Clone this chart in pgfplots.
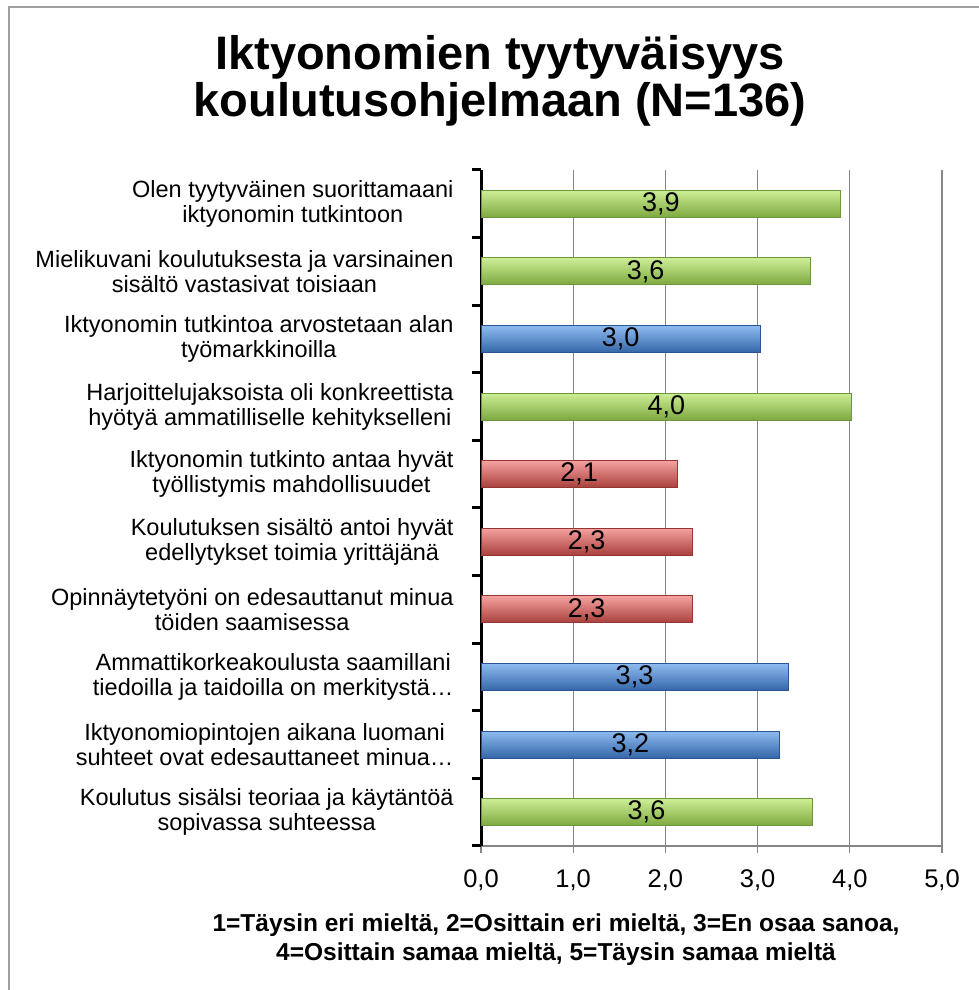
\documentclass[border=0pt]{standalone}
\usepackage{pgfplots}
\pgfplotsset{compat=1.18}
\usepackage{fontspec}
\setmainfont{Liberation Sans}
\definecolor{gridgray}{HTML}{868686}
\definecolor{gtop}{HTML}{CDEE96}
\definecolor{gmain}{HTML}{9BCB4F}
\definecolor{gbot}{HTML}{7DA83F}
\definecolor{gdark}{HTML}{6E963A}
\definecolor{btop}{HTML}{8EBBF0}
\definecolor{bmain}{HTML}{4A84CC}
\definecolor{bbot}{HTML}{3466A8}
\definecolor{bdark}{HTML}{2A5590}
\definecolor{rtop}{HTML}{F5A2A0}
\definecolor{rmain}{HTML}{CF5450}
\definecolor{rbot}{HTML}{A83F3B}
\definecolor{rdark}{HTML}{943633}
\pgfplotsset{
  gbar/.style={draw=gdark, line width=0.8pt, top color=gtop, middle color=gmain, bottom color=gbot},
  bbar/.style={draw=bdark, line width=0.8pt, top color=btop, middle color=bmain, bottom color=bbot},
  rbar/.style={draw=rdark, line width=0.8pt, top color=rtop, middle color=rmain, bottom color=rbot},
}
\begin{document}
\begin{tikzpicture}[x=1pt,y=1pt]
\useasboundingbox (0,0) rectangle (979,990);
\draw[gray!75, line width=2pt] (9,0) -- (9,983) -- (979,983);
\node[font=\fontsize{47}{47}\selectfont\bfseries, anchor=base] at (500,920) {Iktyonomien tyytyväisyys};
\node[font=\fontsize{47}{47}\selectfont\bfseries, anchor=base] at (500,873) {koulutusohjelmaan (N=136)};
\node[font=\fontsize{24.5}{24.5}\selectfont\bfseries, anchor=base] at (556,58) {1=Täysin eri mieltä, 2=Osittain eri mieltä, 3=En osaa sanoa,};
\node[font=\fontsize{24.5}{24.5}\selectfont\bfseries, anchor=base] at (556,29) {4=Osittain samaa mieltä, 5=Täysin samaa mieltä};
\begin{axis}[
  at={(481pt,144pt)}, anchor=south west,
  scale only axis, width=461pt, height=676pt,
  xmin=0, xmax=5, ymin=-0.5, ymax=9.5,
  xbar, bar width=27pt, bar shift=0pt,
  axis lines*=left,
  x axis line style={gridgray, line width=1.3pt},
  y axis line style={black, line width=3pt},
  xtick={0,1,2,3,4,5},
  xticklabels={{0,0},{1,0},{2,0},{3,0},{4,0},{5,0}},
  xticklabel style={font=\fontsize{25.5}{25.5}\selectfont, yshift=-13pt},
  xmajorgrids,
  grid style={gridgray, line width=1.3pt},
  tick align=outside,
  major tick length=7pt,
  minor tick length=9pt,
  major x tick style={gridgray, line width=1.3pt},
  major y tick style={draw=none},
  minor y tick style={black, line width=3pt},
  ytick={0,1,2,3,4,5,6,7,8,9},
  minor ytick={-0.5,0.5,1.5,2.5,3.5,4.5,5.5,6.5,7.5,8.5,9.5},
  yticklabels={
    {Koulutus sisälsi teoriaa ja käytäntöä\\sopivassa suhteessa},
    {Iktyonomiopintojen aikana luomani\\suhteet ovat edesauttaneet minua…},
    {Ammattikorkeakoulusta saamillani\\tiedoilla ja taidoilla on merkitystä…},
    {Opinnäytetyöni on edesauttanut minua\\töiden saamisessa},
    {Koulutuksen sisältö antoi hyvät\\edellytykset toimia yrittäjänä},
    {Iktyonomin tutkinto antaa hyvät\\työllistymis mahdollisuudet},
    {Harjoittelujaksoista oli konkreettista\\hyötyä ammatilliselle kehitykselleni},
    {Iktyonomin tutkintoa arvostetaan alan\\työmarkkinoilla},
    {Mielikuvani koulutuksesta ja varsinainen\\sisältö vastasivat toisiaan},
    {Olen tyytyväinen suorittamaani\\iktyonomin tutkintoon}},
  yticklabel style={font=\fontsize{23.5}{25}\selectfont, align=center, xshift=-17pt},
  /pgf/number format/assume math mode=true,
  visualization depends on=rawx \as \rawx,
  nodes near coords={\pgfmathprintnumber[fixed,fixed zerofill,precision=1,use comma,assume math mode=true]{\pgfplotspointmeta}},
  point meta=x,
  every node near coord/.append style={font=\fontsize{27}{27}\selectfont, text=black, anchor=center, xshift={-46.1*\rawx}},
]
\addplot[gbar] coordinates {(3.90,9)};
\addplot[gbar] coordinates {(3.57,8)};
\addplot[bbar] coordinates {(3.03,7)};
\addplot[gbar] coordinates {(4.02,6)};
\addplot[rbar] coordinates {(2.13,5)};
\addplot[rbar] coordinates {(2.29,4)};
\addplot[rbar] coordinates {(2.29,3)};
\addplot[bbar] coordinates {(3.33,2)};
\addplot[bbar] coordinates {(3.24,1)};
\addplot[gbar] coordinates {(3.59,0)};
\end{axis}
\end{tikzpicture}
\end{document}
